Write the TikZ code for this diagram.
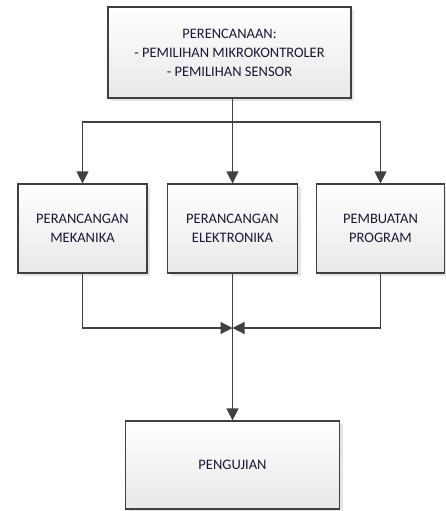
\documentclass[tikz,border=0pt]{standalone}
\usepackage{fontspec}
\setmainfont{Carlito}
\usetikzlibrary{arrows.meta,shadows}
\definecolor{linec}{HTML}{404040}
\definecolor{txtc}{HTML}{1A1A33}
\tikzset{
  boxnode/.style={draw=linec, line width=1.2pt, top color=white, bottom color=black!9,
    drop shadow={shadow xshift=3pt, shadow yshift=-3pt, fill=black!20, opacity=0.5},
    align=center, text=txtc, font=\fontsize{14.5}{19}\selectfont, inner sep=0pt},
  conn/.style={draw=linec, line width=1.2pt},
  arr/.style={conn, -{Triangle[length=12pt,width=12pt]}}
}
\begin{document}
\begin{tikzpicture}[x=1pt,y=-1pt]
\useasboundingbox (0,0) rectangle (445,511);
\node[boxnode, minimum width=243pt, minimum height=91pt] (top) at (229.5,52.5)
  {PERENCANAAN:\\- PEMILIHAN MIKROKONTROLER\\- PEMILIHAN SENSOR};
\node[boxnode, minimum width=129pt, minimum height=89pt] (b1) at (82.5,228.5)
  {PERANCANGAN\\MEKANIKA};
\node[boxnode, minimum width=130pt, minimum height=89pt] (b2) at (232.5,228.5)
  {PERANCANGAN\\ELEKTRONIKA};
\node[boxnode, minimum width=128pt, minimum height=89pt] (b3) at (380.5,228.5)
  {PEMBUATAN\\PROGRAM};
\node[boxnode, minimum width=214pt, minimum height=88pt] (b4) at (232.5,465)
  {PENGUJIAN};
\coordinate (split) at (232.5,122);
\coordinate (join) at (232.5,328);
\draw[conn] (top.south -| split) -- (split);
\draw[arr] (split) -- (b2.north);
\draw[arr] (split) -| (b1.north);
\draw[arr] (split) -| (b3.north);
\draw[arr] (b1.south) |- (join);
\draw[arr] (b3.south) |- (join);
\draw[arr] (b2.south) -- (b4.north);
\end{tikzpicture}
\end{document}
